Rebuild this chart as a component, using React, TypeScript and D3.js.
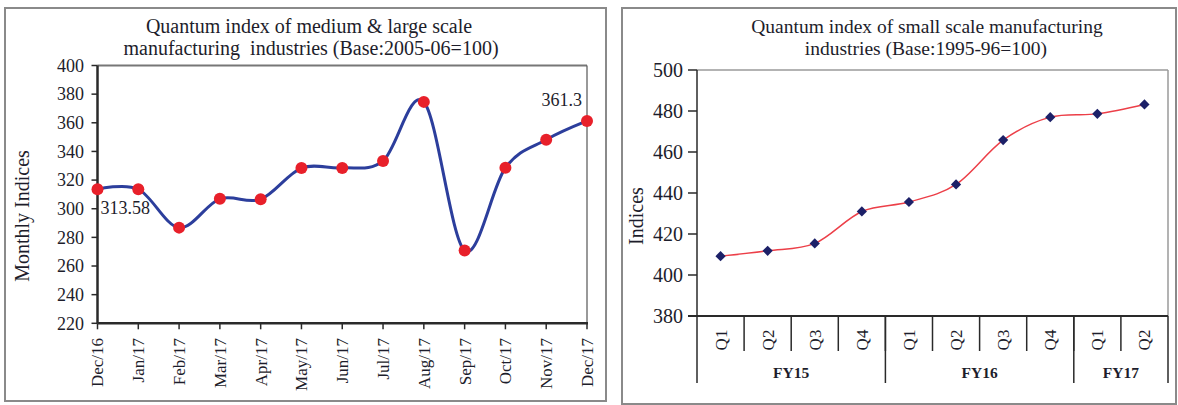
import React from "react";
import * as d3 from "d3";

// Medium & large scale manufacturing (monthly)
const months = ["Dec/16", "Jan/17", "Feb/17", "Mar/17", "Apr/17", "May/17", "Jun/17", "Jul/17", "Aug/17", "Sep/17", "Oct/17", "Nov/17", "Dec/17"];
const lsmValues = [313.58, 313.6, 286.8, 306.9, 306.6, 328.4, 328.5, 333.4, 374.6, 270.8, 328.6, 348.2, 361.3];
const lsmTicks = [220, 240, 260, 280, 300, 320, 340, 360, 380, 400];

// Small scale manufacturing (quarterly)
const quarters = ["Q1", "Q2", "Q3", "Q4", "Q1", "Q2", "Q3", "Q4", "Q1", "Q2"];
const fiscalYears = ["FY15", "FY15", "FY15", "FY15", "FY16", "FY16", "FY16", "FY16", "FY17", "FY17"];
const ssmValues = [409.2, 411.8, 415.4, 431.0, 435.6, 444.2, 465.8, 477.0, 478.6, 483.2];
const ssmTicks = [380, 400, 420, 440, 460, 480, 500];

const FONT = "'Liberation Serif', 'Times New Roman', serif";
const INK = "#1d1d2b";

function LeftChart() {
  const x = d3.scalePoint<string>().domain(months).range([97.5, 587]);
  const y = d3.scaleLinear().domain([220, 400]).range([323.3, 65.5]);
  const line = d3
    .line<number>()
    .x((_, i) => x(months[i]) as number)
    .y((d) => y(d))
    .curve(d3.curveCardinal.tension(0));
  const first = { x: x(months[0]) as number, y: y(lsmValues[0]) };
  const last = { x: x(months[months.length - 1]) as number, y: y(lsmValues[lsmValues.length - 1]) };
  const [x0, x1] = x.range();
  const [yb, yt] = y.range();
  return (
    <g fontFamily={FONT} fill={INK}>
      <rect x={5} y={8} width={601} height={393} fill="#fff" stroke="#8a8a8a" strokeWidth={2} />
      <text x={309} y={33} fontSize={20} textAnchor="middle">Quantum index of medium &amp; large scale</text>
      <text x={311} y={55} fontSize={20} textAnchor="middle" style={{ whiteSpace: "pre" }}>
        {"manufacturing  industries (Base:2005-06=100)"}
      </text>
      {/* plot frame */}
      <line x1={x0} x2={x1} y1={yt} y2={yt} stroke="#777" strokeWidth={2} />
      <line x1={x1} x2={x1} y1={yt} y2={yb} stroke="#555" strokeWidth={1.2} />
      <line x1={x0} x2={x0} y1={yt} y2={yb} stroke="#2a2a2a" strokeWidth={2.5} />
      <line x1={x0} x2={x1 + 1} y1={yb} y2={yb} stroke="#2a2a2a" strokeWidth={2.5} />
      {lsmTicks.map((t) => (
        <g key={t}>
          <line x1={x0 - 6} x2={x0} y1={y(t)} y2={y(t)} stroke="#2a2a2a" strokeWidth={1.5} />
          <text x={84} y={y(t)} dy="0.35em" fontSize={18} textAnchor="end">{t}</text>
        </g>
      ))}
      {months.map((m) => (
        <g key={m}>
          <line x1={x(m)} x2={x(m)} y1={yb} y2={yb + 6} stroke="#2a2a2a" strokeWidth={1.5} />
          <text transform={`translate(${x(m)},338) rotate(-90)`} dy="0.35em" fontSize={17} textAnchor="end">{m}</text>
        </g>
      ))}
      <text transform="translate(22,216) rotate(-90)" dy="0.35em" fontSize={20} textAnchor="middle">Monthly Indices</text>
      <path d={line(lsmValues) ?? ""} fill="none" stroke="#2c3e9c" strokeWidth={3} />
      {lsmValues.map((v, i) => (
        <circle key={i} cx={x(months[i])} cy={y(v)} r={6} fill="#e8202a" />
      ))}
      <text x={first.x + 3} y={first.y + 25} fontSize={18}>{lsmValues[0].toFixed(2)}</text>
      <text x={last.x - 5} y={last.y - 15} fontSize={18} textAnchor="end">{lsmValues[lsmValues.length - 1]}</text>
    </g>
  );
}

function RightChart() {
  const keys = quarters.map((_, i) => String(i));
  const x = d3.scaleBand<string>().domain(keys).range([697, 1168]).padding(0);
  const y = d3.scaleLinear().domain([380, 500]).range([316, 70]);
  const cx = (i: number) => (x(keys[i]) as number) + x.bandwidth() / 2;
  const line = d3
    .line<number>()
    .x((_, i) => cx(i))
    .y((d) => y(d))
    .curve(d3.curveCardinal.tension(0));
  const [x0, x1] = x.range();
  const [yb, yt] = y.range();
  // square marker turned 45 degrees
  const diamond = d3.symbol().type(d3.symbolSquare).size(52)() ?? "";
  // group boundaries along the category axis
  const groups: { name: string; start: number; end: number }[] = [];
  fiscalYears.forEach((fy, i) => {
    const g = groups[groups.length - 1];
    if (g && g.name === fy) g.end = i;
    else groups.push({ name: fy, start: i, end: i });
  });
  return (
    <g fontFamily={FONT} fill={INK}>
      <rect x={622} y={8} width={554} height={396} fill="#fff" stroke="#8a8a8a" strokeWidth={2} />
      <text x={927} y={33} fontSize={19.5} textAnchor="middle">Quantum index of small scale manufacturing</text>
      <text x={926} y={55} fontSize={19.5} textAnchor="middle">industries (Base:1995-96=100)</text>
      <line x1={x0} x2={x1} y1={yt} y2={yt} stroke="#9a9a9a" strokeWidth={1.5} />
      <line x1={x1} x2={x1} y1={yt} y2={yb} stroke="#9a9a9a" strokeWidth={1.5} />
      <line x1={x0} x2={x0} y1={yt} y2={yb} stroke="#2a2a2a" strokeWidth={1.5} />
      <line x1={x0 - 9} x2={x1} y1={yb} y2={yb} stroke="#2a2a2a" strokeWidth={2} />
      {ssmTicks.map((t) => (
        <g key={t}>
          <line x1={x0 - 9} x2={x0} y1={y(t)} y2={y(t)} stroke="#2a2a2a" strokeWidth={1.5} />
          <text x={683} y={y(t)} dy="0.35em" fontSize={20} textAnchor="end">{t}</text>
        </g>
      ))}
      {keys.map((k, i) => (
        <g key={k}>
          {i > 0 && <line x1={x(k)} x2={x(k)} y1={yb} y2={351} stroke="#2a2a2a" strokeWidth={1.5} />}
          <text transform={`translate(${cx(i)},340) rotate(-90)`} dy="0.35em" fontSize={17} textAnchor="middle">{quarters[i]}</text>
        </g>
      ))}
      {groups.map((g, gi) => {
        const a = x(keys[g.start]) as number;
        const b = (x(keys[g.end]) as number) + x.bandwidth();
        return (
          <g key={g.name}>
            {gi === 0 && <line x1={a} x2={a} y1={yb} y2={383} stroke="#2a2a2a" strokeWidth={1.5} />}
            <line x1={b} x2={b} y1={yb} y2={383} stroke="#2a2a2a" strokeWidth={1.5} />
            <text x={(a + b) / 2} y={378} fontSize={15.5} fontWeight="bold" textAnchor="middle">{g.name}</text>
          </g>
        );
      })}
      <text transform="translate(636,216) rotate(-90)" dy="0.35em" fontSize={20} textAnchor="middle">Indices</text>
      <path d={line(ssmValues) ?? ""} fill="none" stroke="#ec3f48" strokeWidth={1.5} />
      {ssmValues.map((v, i) => (
        <path key={i} d={diamond} transform={`translate(${cx(i)},${y(v)}) rotate(45)`} fill="#1c2068" />
      ))}
    </g>
  );
}

export default function App() {
  return (
    <svg width={1178} height={405} style={{ position: "absolute", left: 0, top: 0, background: "#fff" }}>
      <LeftChart />
      <RightChart />
    </svg>
  );
}
